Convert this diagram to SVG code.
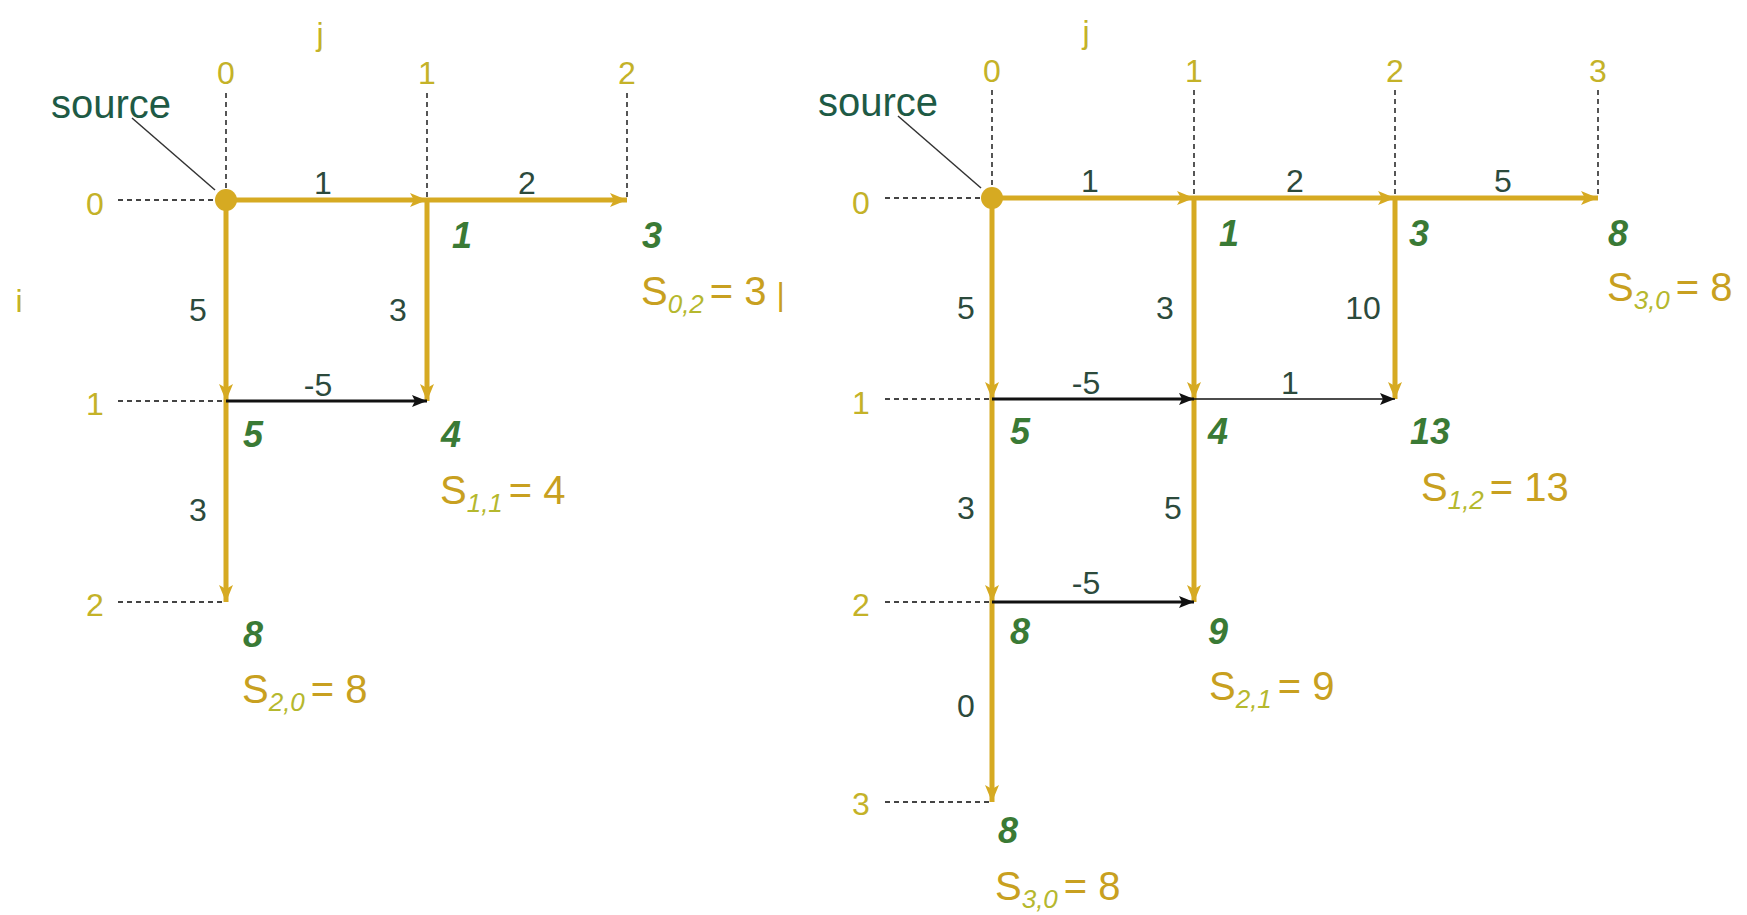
<svg xmlns="http://www.w3.org/2000/svg" width="1747" height="915" viewBox="0 0 1747 915">
<style>
text{font-family:"Liberation Sans",Arial,sans-serif}
.ax{font-family:"Liberation Sans Narrow","Liberation Sans",sans-serif;font-size:32px;fill:#C4B228;text-anchor:middle}
.w{font-family:"Liberation Sans Narrow","Liberation Sans",sans-serif;font-size:32px;fill:#2C4A3C;text-anchor:middle}
.v{font-size:36px;fill:#3A7A35;font-weight:bold;font-style:italic;text-anchor:middle}
.src{font-size:40px;fill:#1E5A45}
.s{font-size:40px;fill:#C8A020}
.sub{font-size:26px;fill:#B5B82E;font-style:italic}
.dash{stroke:#444;stroke-width:1.8;stroke-dasharray:5 4;fill:none}
.g{stroke:#D6AA22;stroke-width:5;fill:none;marker-end:url(#ga)}
.b{stroke:#111;stroke-width:3;fill:none;marker-end:url(#ba)}
.bt{stroke:#111;stroke-width:1.6;fill:none;marker-end:url(#ba)}
.lead{stroke:#333;stroke-width:1.5}
</style>
<defs>
<marker id="ga" markerUnits="userSpaceOnUse" markerWidth="18" markerHeight="14" refX="17" refY="7" orient="auto"><path d="M0,0 L17,7 L0,14 L4,7 Z" fill="#D6AA22"/></marker>
<marker id="ba" markerUnits="userSpaceOnUse" markerWidth="16" markerHeight="12" refX="15" refY="6" orient="auto"><path d="M0,0 L15,6 L0,12 L3,6 Z" fill="#111"/></marker>
</defs>
<rect width="1747" height="915" fill="#fff"/>

<g id="left-axes">
<text class="ax" x="320" y="45">j</text>
<text class="ax" x="19" y="312">i</text>
<text class="ax" x="226" y="84">0</text>
<text class="ax" x="427" y="84">1</text>
<text class="ax" x="627" y="84">2</text>
<text class="ax" x="95" y="215">0</text>
<text class="ax" x="95" y="415">1</text>
<text class="ax" x="95" y="616">2</text>
<path class="dash" d="M226,93V200M427,93V200M627,93V200M118,200H226M118,401H226M118,602H226"/>
</g>
<g id="right-axes">
<text class="ax" x="1086" y="43">j</text>
<text class="ax" x="992" y="82">0</text>
<text class="ax" x="1194" y="82">1</text>
<text class="ax" x="1395" y="82">2</text>
<text class="ax" x="1598" y="82">3</text>
<text class="ax" x="861" y="214">0</text>
<text class="ax" x="861" y="414">1</text>
<text class="ax" x="861" y="616">2</text>
<text class="ax" x="861" y="815">3</text>
<path class="dash" d="M992,90V198M1194,90V198M1395,90V198M1598,90V198M885,198H992M885,399H992M885,602H992M885,802H992"/>
</g>

<g id="connectors">
<path class="g" d="M226,200H427"/>
<path class="g" d="M427,200H627"/>
<path class="g" d="M226,200V401"/>
<path class="g" d="M427,200V401"/>
<path class="g" d="M226,401V602"/>
<path class="b" d="M226,401H427"/>
<path class="g" d="M992,198H1194"/>
<path class="g" d="M1194,198H1395"/>
<path class="g" d="M1395,198H1598"/>
<path class="g" d="M992,198V399"/>
<path class="g" d="M1194,198V399"/>
<path class="g" d="M1395,198V399"/>
<path class="g" d="M992,399V602"/>
<path class="g" d="M1194,399V602"/>
<path class="g" d="M992,602V802"/>
<path class="b" d="M992,399H1194"/>
<path class="bt" d="M1194,399H1395"/>
<path class="b" d="M992,602H1194"/>
<line class="lead" x1="132" y1="118" x2="215" y2="190"/>
<line class="lead" x1="898" y1="116" x2="981" y2="188"/>
</g>

<g id="left-weights">
<text class="w" x="323" y="194">1</text>
<text class="w" x="527" y="194">2</text>
<text class="w" x="198" y="321">5</text>
<text class="w" x="398" y="321">3</text>
<text class="w" x="318" y="396">-5</text>
<text class="w" x="198" y="521">3</text>
</g>
<g id="right-weights">
<text class="w" x="1090" y="192">1</text>
<text class="w" x="1295" y="192">2</text>
<text class="w" x="1503" y="192">5</text>
<text class="w" x="966" y="319">5</text>
<text class="w" x="1165" y="319">3</text>
<text class="w" x="1363" y="319">10</text>
<text class="w" x="1086" y="394">-5</text>
<text class="w" x="1290" y="394">1</text>
<text class="w" x="966" y="519">3</text>
<text class="w" x="1173" y="519">5</text>
<text class="w" x="1086" y="594">-5</text>
<text class="w" x="966" y="717">0</text>
</g>

<g id="left-source"><circle cx="226" cy="200" r="11" fill="#D6AA22"/><text class="src" x="51" y="118">source</text></g>
<g id="right-source"><circle cx="992" cy="198" r="11" fill="#D6AA22"/><text class="src" x="818" y="116">source</text></g>

<g id="L-n01"><text class="v" x="462" y="248">1</text></g>
<g id="L-n02"><text class="v" x="652" y="248">3</text>
<text class="s" x="641" y="305">S<tspan class="sub" dy="8">0,2</tspan><tspan dy="-8" dx="6">= 3</tspan><tspan dx="10" font-size="32">|</tspan></text></g>
<g id="L-n10"><text class="v" x="253" y="447">5</text></g>
<g id="L-n11"><text class="v" x="451" y="447">4</text>
<text class="s" x="440" y="504">S<tspan class="sub" dy="8">1,1</tspan><tspan dy="-8" dx="6">= 4</tspan></text></g>
<g id="L-n20"><text class="v" x="253" y="647">8</text>
<text class="s" x="242" y="703">S<tspan class="sub" dy="8">2,0</tspan><tspan dy="-8" dx="6">= 8</tspan></text></g>

<g id="R-n01"><text class="v" x="1229" y="246">1</text></g>
<g id="R-n02"><text class="v" x="1419" y="246">3</text></g>
<g id="R-n03"><text class="v" x="1618" y="246">8</text>
<text class="s" x="1607" y="301">S<tspan class="sub" dy="8">3,0</tspan><tspan dy="-8" dx="6">= 8</tspan></text></g>
<g id="R-n10"><text class="v" x="1020" y="444">5</text></g>
<g id="R-n11"><text class="v" x="1218" y="444">4</text></g>
<g id="R-n12"><text class="v" x="1430" y="444">13</text>
<text class="s" x="1421" y="501">S<tspan class="sub" dy="8">1,2</tspan><tspan dy="-8" dx="6">= 13</tspan></text></g>
<g id="R-n20"><text class="v" x="1020" y="644">8</text></g>
<g id="R-n21"><text class="v" x="1218" y="644">9</text>
<text class="s" x="1209" y="700">S<tspan class="sub" dy="8">2,1</tspan><tspan dy="-8" dx="6">= 9</tspan></text></g>
<g id="R-n30"><text class="v" x="1008" y="843">8</text>
<text class="s" x="995" y="900">S<tspan class="sub" dy="8">3,0</tspan><tspan dy="-8" dx="6">= 8</tspan></text></g>
</svg>
